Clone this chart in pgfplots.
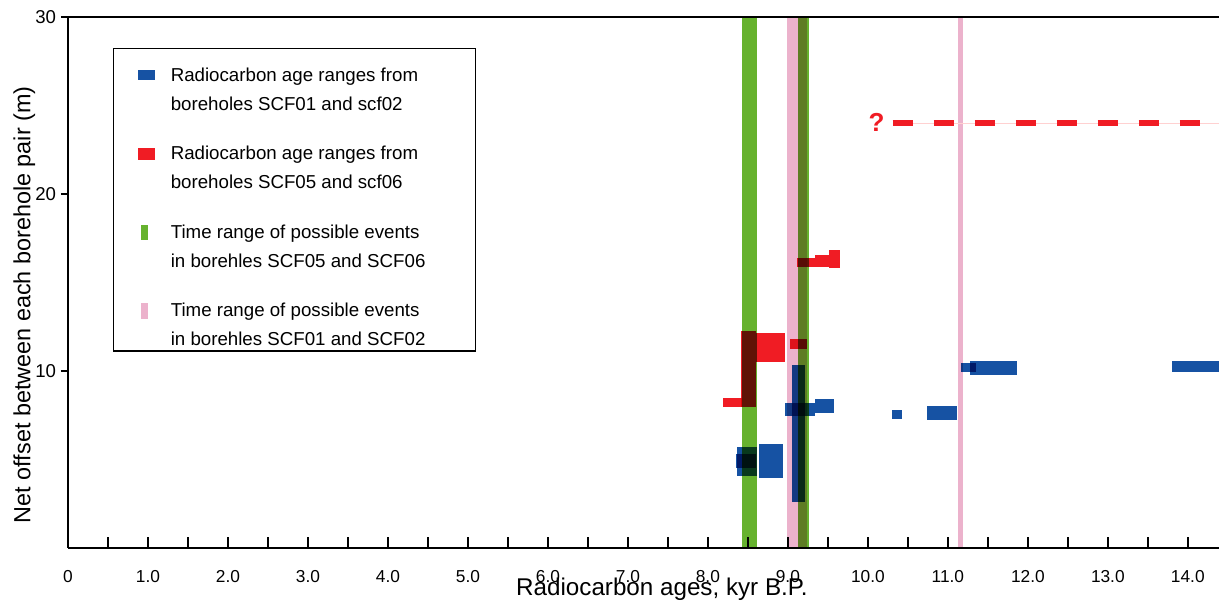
\documentclass[border=0pt]{standalone}
\usepackage{fontspec}
\setmainfont{Liberation Sans}
\usepackage{pgfplots}
\pgfplotsset{compat=1.18}

\definecolor{cblue}{RGB}{22,82,163}
\definecolor{cred}{RGB}{240,28,36}
\definecolor{cgreen}{RGB}{102,178,46}
\definecolor{cpink}{RGB}{236,178,204}

% two-line legend text, baseline on the last line
\newcommand{\legtext}[2]{\parbox[b]{138.5pt}{#1\newline #2}}

\begin{document}
\begin{tikzpicture}
\begin{axis}[
    name=ax,
    scale only axis,
    width=575.5pt, height=265.5pt,
    xmin=0, xmax=14.39, ymin=0, ymax=30,
    axis x line=bottom, axis y line=left,
    axis line style={-, line width=1pt},
    xtick={0,...,14},
    xticklabels={0,1.0,2.0,3.0,4.0,5.0,6.0,7.0,8.0,9.0,10.0,11.0,12.0,13.0,14.0},
    minor xtick={0.5,1.5,...,13.5},
    xtick align=inside,
    xtick style={line width=0.8pt, black, /pgfplots/major tick length=5.5pt, /pgfplots/minor tick length=5.5pt},
    ytick={10,20,30},
    ytick align=outside,
    ytick style={line width=0.8pt, black, /pgfplots/major tick length=3.5pt},
    xticklabel style={font=\fontsize{8.65}{10}\selectfont, anchor=base, yshift=-17.5pt},
    yticklabel style={font=\fontsize{9.3}{10}\selectfont, inner xsep=1.5pt},
    /pgf/number format/assume math mode=true,
    xlabel={Radiocarbon ages, kyr B.P.},
    ylabel={Net offset between each borehole pair (m)},
    xlabel style={font=\fontsize{12.1}{14}\selectfont, at={(axis description cs:0.516,-0.09)}, anchor=base},
    ylabel style={font=\fontsize{11.7}{14}\selectfont, at={(axis description cs:-0.0326,0.458)}, anchor=base},
    no markers,
    rect/.style={draw=none, fill=#1, forget plot, blend mode=multiply},
    legend style={
        at={(axis description cs:0.0391,0.9416)}, anchor=north west,
        draw=black, line width=0.6pt, fill=white,
        inner xsep=12pt, inner ysep=1pt,
        row sep=12.5pt, column sep=6pt,
        font=\fontsize{9.35}{14.5}\selectfont,
        cells={anchor=base west, inner sep=1pt},
    },
]
% time ranges of possible events
\addplot [rect=cgreen] coordinates {(8.43,0) (8.62,0) (8.62,30) (8.43,30)} -- cycle;
\addplot [rect=cpink] coordinates {(8.995,0) (9.24,0) (9.24,30) (8.995,30)} -- cycle;
\addplot [rect=cgreen] coordinates {(9.13,0) (9.27,0) (9.27,30) (9.13,30)} -- cycle;
\addplot [rect=cpink] coordinates {(11.13,0) (11.19,0) (11.19,30) (11.13,30)} -- cycle;

% SCF05 / scf06
\addplot [rect=cred] coordinates {(8.19,7.95) (8.43,7.95) (8.43,8.46) (8.19,8.46)} -- cycle;
\addplot [rect=cred] coordinates {(8.41,7.97) (8.60,7.97) (8.60,12.26) (8.41,12.26)} -- cycle;
\addplot [rect=cred] coordinates {(8.60,10.49) (8.96,10.49) (8.96,12.13) (8.60,12.13)} -- cycle;
\addplot [rect=cred] coordinates {(9.03,11.24) (9.24,11.24) (9.24,11.79) (9.03,11.79)} -- cycle;
\addplot [rect=cred] coordinates {(9.12,15.85) (9.34,15.85) (9.34,16.37) (9.12,16.37)} -- cycle;
\addplot [rect=cred] coordinates {(9.34,15.85) (9.51,15.85) (9.51,16.55) (9.34,16.55)} -- cycle;
\addplot [rect=cred] coordinates {(9.51,15.80) (9.65,15.80) (9.65,16.84) (9.51,16.84)} -- cycle;

% SCF01 / scf02
\addplot [rect=cblue] coordinates {(8.36,4.07) (8.62,4.07) (8.62,5.69) (8.36,5.69)} -- cycle;
\addplot [rect=cblue] coordinates {(8.35,4.50) (8.60,4.50) (8.60,5.31) (8.35,5.31)} -- cycle;
\addplot [rect=cblue] coordinates {(8.64,3.94) (8.94,3.94) (8.94,5.86) (8.64,5.86)} -- cycle;
\addplot [rect=cblue] coordinates {(9.05,2.62) (9.22,2.62) (9.22,10.34) (9.05,10.34)} -- cycle;
\addplot [rect=cblue] coordinates {(8.96,7.46) (9.34,7.46) (9.34,8.21) (8.96,8.21)} -- cycle;
\addplot [rect=cblue] coordinates {(9.34,7.64) (9.58,7.64) (9.58,8.42) (9.34,8.42)} -- cycle;
\addplot [rect=cblue] coordinates {(10.30,7.27) (10.43,7.27) (10.43,7.80) (10.30,7.80)} -- cycle;
\addplot [rect=cblue] coordinates {(10.74,7.25) (11.12,7.25) (11.12,8.04) (10.74,8.04)} -- cycle;
\addplot [rect=cblue] coordinates {(11.17,9.94) (11.35,9.94) (11.35,10.47) (11.17,10.47)} -- cycle;
\addplot [rect=cblue] coordinates {(11.28,9.77) (11.86,9.77) (11.86,10.58) (11.28,10.58)} -- cycle;
\addplot [rect=cblue] coordinates {(13.80,9.96) (14.45,9.96) (14.45,10.56) (13.80,10.56)} -- cycle;

% uncertain offset
\addplot [red!18, line width=0.5pt, forget plot] coordinates {(10.31,24) (14.45,24)};
\addplot [cred, line width=3pt, dash pattern=on 10.35pt off 10.15pt, forget plot] coordinates {(10.31,24) (14.45,24)};
\node [text=cred, font=\bfseries\fontsize{13}{13}\selectfont] at (axis cs:10.11,24.07) {?};

\draw [line width=1pt] (rel axis cs:0,1) -- (rel axis cs:1,1);

\addlegendimage{legend image code/.code={\path[draw=none,fill=none] (0pt,0pt) rectangle (8pt,0pt); \fill[cblue] (0pt,15.25pt) rectangle (8pt,19.75pt);}}
\addlegendentry{\legtext{\rule{0pt}{13.3pt}Radiocarbon age ranges from}{boreholes SCF01 and scf02}}
\addlegendimage{legend image code/.code={\path[draw=none,fill=none] (0pt,0pt) rectangle (8pt,0pt); \fill[cred] (0pt,14.75pt) rectangle (8pt,20.25pt);}}
\addlegendentry{\legtext{Radiocarbon age ranges from}{boreholes SCF05 and scf06}}
\addlegendimage{legend image code/.code={\path[draw=none,fill=none] (0pt,0pt) rectangle (8pt,0pt); \fill[cgreen] (1.5pt,14pt) rectangle (4.5pt,21pt);}}
\addlegendentry{\legtext{Time range of possible events}{in borehles SCF05 and SCF06}}
\addlegendimage{legend image code/.code={\path[draw=none,fill=none] (0pt,0pt) rectangle (8pt,0pt); \fill[cpink] (1.5pt,12pt) rectangle (4.5pt,19pt);}}
\addlegendentry{\legtext{Time range of possible events}{in borehles SCF01 and SCF02\endgraf\vskip-2pt}}
\end{axis}
\pgfresetboundingbox
\path ([xshift=-34pt,yshift=-27pt]ax.south west) rectangle ([yshift=8.5pt]ax.north east);
\end{tikzpicture}
\end{document}
